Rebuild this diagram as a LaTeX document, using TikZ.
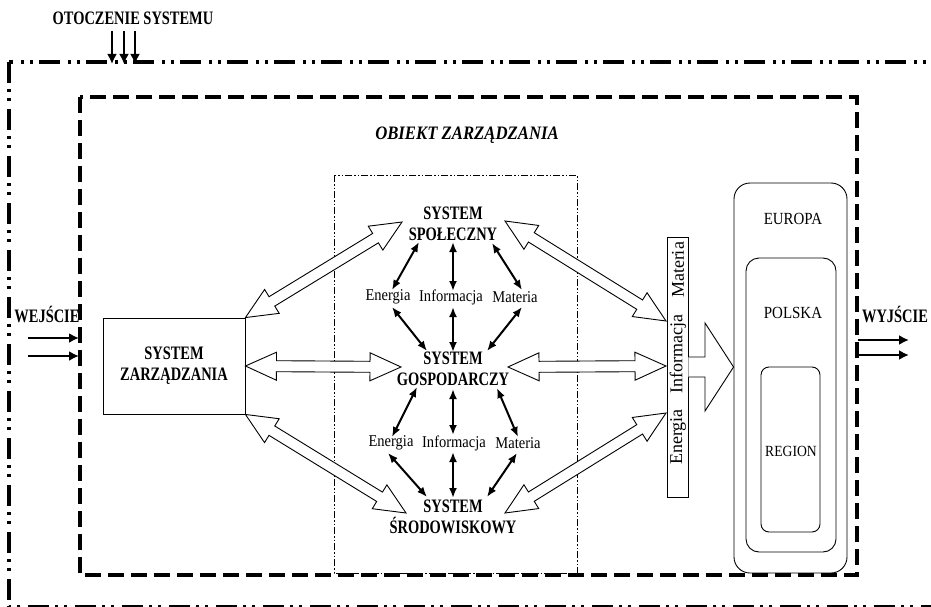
\documentclass[tikz,border=0pt]{standalone}
\usepackage{fontspec}
\setmainfont{Liberation Serif}
\newfontfamily\condf{Liberation Serif}[FakeStretch=0.76]
\newfontfamily\condr{Liberation Serif}[FakeStretch=0.88]
\usetikzlibrary{arrows.meta,calc}
\tikzset{
  blab/.style={font=\condf\bfseries\fontsize{19}{21}\selectfont, align=center, inner sep=0pt},
  rlab/.style={font=\condr\fontsize{16.5}{18}\selectfont, inner sep=0pt},
  hollow/.style={draw=black, line width=0.9pt, fill=white, line join=miter},
  flow/.style={line width=2pt, {Latex[length=10pt,width=8pt]}-{Latex[length=10pt,width=8pt]}},
  inarrow/.style={line width=2.4pt, -{Latex[length=10pt,width=10pt]}},
  thinbox/.style={draw, line width=0.9pt},
}
\newcommand{\dblarrow}[2]{%
  \coordinate (hA) at ($(#1)!31pt!(#2)$);
  \coordinate (hB) at ($(#2)!31pt!(#1)$);
  \draw[hollow] (#1) -- ($(hA)!14pt!90:(#2)$) -- ($(hA)!5.5pt!90:(#2)$)
    -- ($(hB)!5.5pt!-90:(#1)$) -- ($(hB)!14pt!-90:(#1)$) -- (#2)
    -- ($(hB)!14pt!90:(#1)$) -- ($(hB)!5.5pt!90:(#1)$)
    -- ($(hA)!5.5pt!-90:(#2)$) -- ($(hA)!14pt!-90:(#2)$) -- cycle;}
\begin{document}
\begin{tikzpicture}[x=1pt,y=-1pt]
\useasboundingbox (0,0) rectangle (931,607);
\clip (0,0) rectangle (931,607);
% outer system boundary
\draw[line width=4pt, dash pattern=on 21pt off 6pt on 3pt off 6pt on 3pt off 8pt] (9,62) rectangle (970,607);
% inner object boundary
\draw[line width=3.6pt, dash pattern=on 16pt off 7pt] (80,97) rectangle (857,575);
% thin dash-dot box
\draw[line width=1pt, dash pattern=on 7pt off 2pt on 1.5pt off 2pt on 1.5pt off 2pt] (334,175) rectangle (577,573);

% labels on top
\node[blab] (otocz) at (133,18) {OTOCZENIE SYSTEMU};
\coordinate (o1) at (112,31); \coordinate (o1e) at (112,64);
\coordinate (o2) at (124,31); \coordinate (o2e) at (124,64);
\coordinate (o3) at (135,31); \coordinate (o3e) at (135,64);
\draw[inarrow] (o1) -- (o1e);
\draw[inarrow] (o2) -- (o2e);
\draw[inarrow] (o3) -- (o3e);

\node[font=\condr\bfseries\itshape\fontsize{19}{21}\selectfont, inner sep=0pt] (obiekt) at (467,135) {OBIEKT ZARZĄDZANIA};

% input / output
\node[blab] (wej) at (47,314) {WEJŚCIE};
\coordinate (w1) at (28,338); \coordinate (w1e) at (79,338);
\coordinate (w2) at (28,356); \coordinate (w2e) at (79,356);
\draw[inarrow] (w1) -- (w1e);
\draw[inarrow] (w2) -- (w2e);
\node[blab] (wyj) at (895,314) {WYJŚCIE};
\coordinate (y1) at (858,340); \coordinate (y1e) at (909,340);
\coordinate (y2) at (858,355); \coordinate (y2e) at (909,355);
\draw[inarrow] (y1) -- (y1e);
\draw[inarrow] (y2) -- (y2e);

% management system
\node[thinbox, minimum width=142pt, minimum height=96pt, blab, draw] (sz) at (174,366) {SYSTEM\\ZARZĄDZANIA};

% subsystems
\node[blab] (spol) at (453,224) {SYSTEM\\SPOŁECZNY};
\node[blab] (gosp) at (453,369) {SYSTEM\\GOSPODARCZY};
\node[blab] (srod) at (453,517) {SYSTEM\\ŚRODOWISKOWY};

\node[rlab] (e1) at (388,297) {Energia};
\node[rlab] (i1) at (451,297) {Informacja};
\node[rlab] (m1) at (515,297) {Materia};
\node[rlab] (e2) at (391,443) {Energia};
\node[rlab] (i2) at (454,443) {Informacja};
\node[rlab] (m2) at (518,443) {Materia};

% black flow arrows
\draw[flow] (419,242) -- (392,290);
\draw[flow] (453,242) -- (453,291);
\draw[flow] (492,243) -- (522,290);
\draw[flow] (392,307) -- (427,351);
\draw[flow] (453,307) -- (453,352);
\draw[flow] (522,307) -- (487,351);
\draw[flow] (417,387) -- (392,437);
\draw[flow] (453,389) -- (453,435);
\draw[flow] (497,388) -- (518,437);
\draw[flow] (388,453) -- (427,497);
\draw[flow] (453,452) -- (453,498);
\draw[flow] (517,453) -- (487,497);

% E-I-M bar
\node[thinbox, minimum width=21pt, minimum height=260pt, inner sep=0pt] (eim) at (677.5,367) {};
\node[font=\fontsize{18}{20}\selectfont, rotate=90, inner sep=0pt] (mt) at (678,270) {Materia};
\node[font=\fontsize{18}{20}\selectfont, rotate=90, inner sep=0pt] (it) at (678,354) {Informacja};
\node[font=\fontsize{18}{20}\selectfont, rotate=90, inner sep=0pt] (et) at (678,437) {Energia};

% hollow double arrows
\coordinate (szne) at (sz.north east);
\coordinate (sze) at (sz.east);
\coordinate (szse) at (sz.south east);
\coordinate (spL) at (402,222); \coordinate (spR) at (505,221);
\coordinate (goL) at (401,367); \coordinate (goR) at (508,367);
\coordinate (srL) at (406,513); \coordinate (srR) at (505,513);
\coordinate (eimA) at (666,321);
\coordinate (eimB) at (666,366);
\coordinate (eimC) at (666,413);
\dblarrow{szne}{spL}
\dblarrow{sze}{goL}
\dblarrow{szse}{srL}
\dblarrow{spR}{eimA}
\dblarrow{goR}{eimB}
\dblarrow{srR}{eimC}

% regions
\node[thinbox, rounded corners=16pt, minimum width=113pt, minimum height=390pt] (europa) at (790.5,378) {};
\node[thinbox, rounded corners=13pt, minimum width=90pt, minimum height=294pt] (polska) at (791,405) {};
\node[thinbox, rounded corners=8pt, minimum width=59pt, minimum height=165pt] (region) at (790.5,449.5) {};
\node[rlab, font=\condr\fontsize{17}{19}\selectfont] (eul) at (793,219) {EUROPA};
\node[rlab, font=\condr\fontsize{17}{19}\selectfont] (pll) at (793,313) {POLSKA};
\node[rlab, font=\condr\fontsize{15.5}{17}\selectfont] (rgl) at (791,451) {REGION};

% big hollow arrow into regions
\draw[hollow] (eim.east |- 0,357) -- (705,357) -- (705,323) -- (europa.west |- 0,367)
  -- (705,411) -- (705,377) -- (eim.east |- 0,377);
\end{tikzpicture}
\end{document}
